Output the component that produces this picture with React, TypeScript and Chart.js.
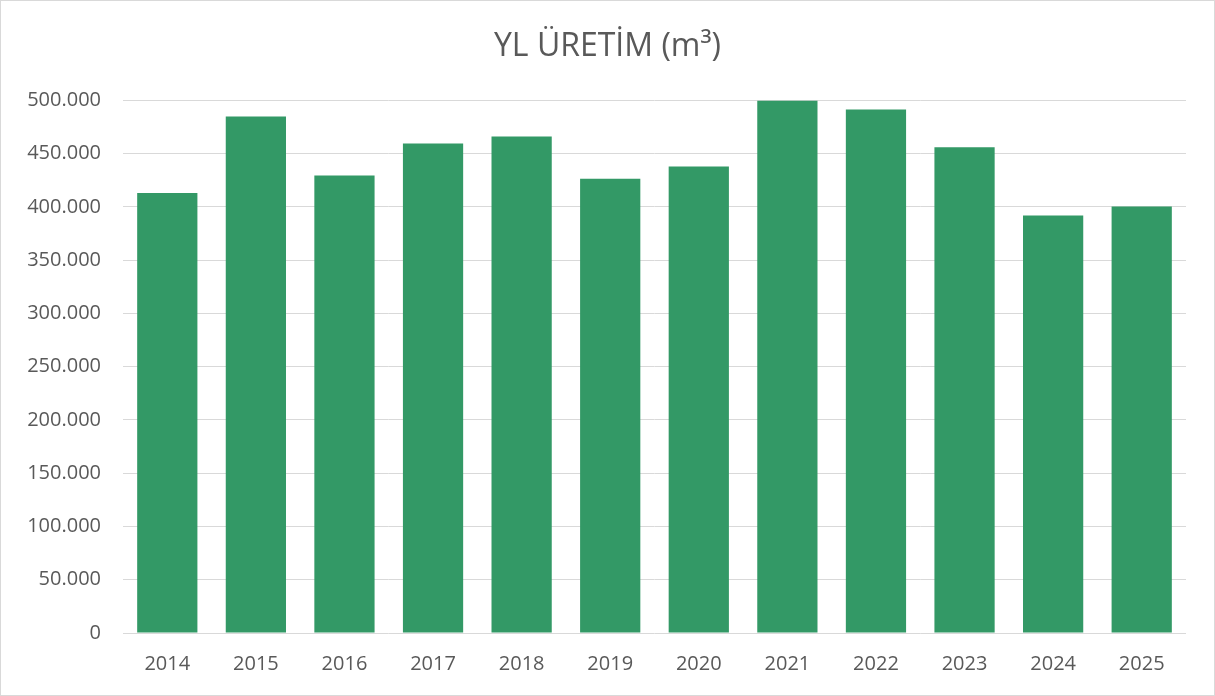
import React, { useEffect, useRef } from "react";
import { Chart, registerables } from "chart.js";

Chart.register(...registerables);

const categories = ["2014", "2015", "2016", "2017", "2018", "2019", "2020", "2021", "2022", "2023", "2024", "2025"];
const production = [413000, 485000, 429500, 459500, 466000, 426500, 438000, 500000, 491500, 456000, 392000, 400500];
const titleText = "YL ÜRETİM (m³)";

const formatTR = (v: number) => String(Math.round(v)).replace(/\B(?=(\d{3})+(?!\d))/g, ".");

export default function App() {
  const ref = useRef<HTMLCanvasElement | null>(null);
  useEffect(() => {
    document.body.style.margin = "0";
    const ctx = ref.current;
    if (!ctx) return;
    const chart = new Chart(ctx, {
      type: "bar",
      data: {
        labels: categories,
        datasets: [
          {
            label: titleText,
            data: production,
            backgroundColor: "#339966",
            borderWidth: 0,
            barPercentage: 0.68,
            categoryPercentage: 1,
          },
        ],
      },
      options: {
        responsive: false,
        animation: false,
        layout: { padding: 0 },
        plugins: {
          legend: { display: false },
          tooltip: { enabled: false },
          title: {
            display: true,
            text: titleText,
            color: "#595959",
            font: { family: "Open Sans", size: 32, weight: "normal", lineHeight: 1.2 },
            padding: { top: 27, bottom: 34 },
          },
        },
        scales: {
          x: {
            grid: { display: false, drawTicks: false },
            border: { display: false },
            ticks: {
              color: "#595959",
              font: { family: "Open Sans", size: 20 },
              padding: 19,
            },
            afterFit: (scale: any) => {
              scale.height = 62;
            },
          },
          y: {
            min: 0,
            max: 500000,
            grid: { color: "#d9d9d9", lineWidth: 1, drawTicks: false },
            border: { display: false },
            ticks: {
              stepSize: 50000,
              color: "#595959",
              font: { family: "Open Sans", size: 20 },
              padding: 22,
              callback: (v: any) => formatTR(Number(v)),
            },
            afterFit: (scale: any) => {
              scale.width = 122;
            },
          },
          yRight: {
            position: "right",
            min: 0,
            max: 500000,
            grid: { display: false, drawTicks: false },
            border: { display: false },
            ticks: { display: false },
            afterFit: (scale: any) => {
              scale.width = 28;
            },
          },
        },
      },
    });
    return () => chart.destroy();
  }, []);
  return (
    <div
      style={{
        position: "absolute",
        left: 0,
        top: 0,
        width: 1215,
        height: 696,
        border: "1px solid #d9d9d9",
        boxSizing: "border-box",
        background: "#fff",
      }}
    >
      <canvas ref={ref} width={1213} height={694} style={{ display: "block", width: 1213, height: 694 }} />
    </div>
  );
}
